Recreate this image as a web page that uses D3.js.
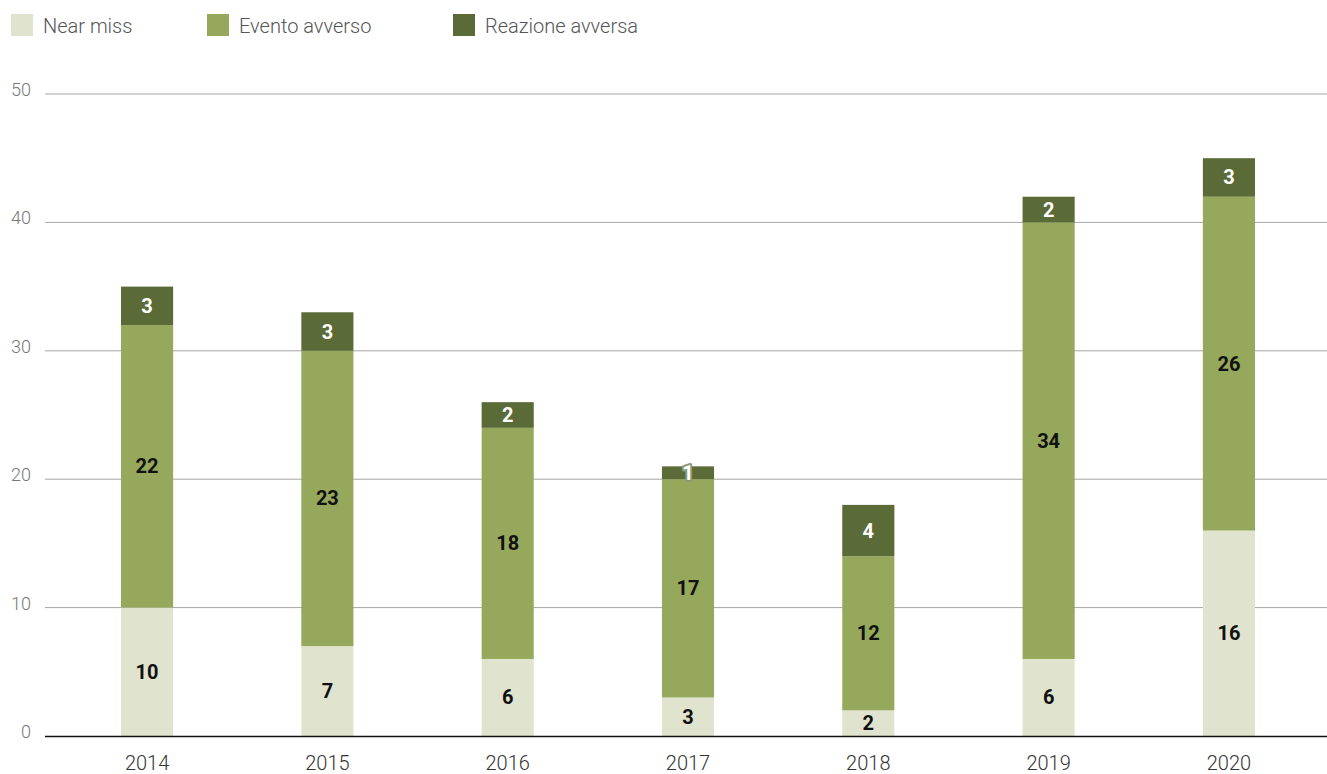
<!DOCTYPE html>
<html>
<head>
<meta charset="utf-8">
<script src="https://cdn.jsdelivr.net/npm/d3@7"></script>
<style>
  body { margin: 0; background: #fff; }
  svg text { font-family: Roboto, "Noto Sans", sans-serif; }
</style>
</head>
<body>
<script>
// Data
var years = ["2014", "2015", "2016", "2017", "2018", "2019", "2020"];
var nearMiss = [10, 7, 6, 3, 2, 6, 16];
var eventoAvverso = [22, 23, 18, 17, 12, 34, 26];
var reazioneAvversa = [3, 3, 2, 1, 4, 2, 3];
var yTicks = [0, 10, 20, 30, 40, 50];

var seriesNames = ["Near miss", "Evento avverso", "Reazione avversa"];
var seriesColors = ["#e0e3cd", "#96a85c", "#5b6b38"];
var labelColors = ["#111", "#111", "#fff"];

var svgWidth = 1327;
var svgHeight = 774;

var svg = d3.select("body")
  .append("svg")
  .attr("width", svgWidth)
  .attr("height", svgHeight);

// build rows for the stack
var rows = years.map(function (y, i) {
  return { year: y, near: nearMiss[i], evento: eventoAvverso[i], reazione: reazioneAvversa[i] };
});
var keys = ["near", "evento", "reazione"];
var stacked = d3.stack().keys(keys)(rows);

var x = d3.scaleBand()
  .domain(years)
  .range([57, 1319])
  .paddingInner(0.711)
  .paddingOuter(0.355);

var y = d3.scaleLinear()
  .domain([0, 50])
  .range([736, 94]);

// gridlines
svg.append("g")
  .selectAll("line")
  .data(yTicks.filter(d => d > 0))
  .enter().append("line")
  .attr("x1", 45)
  .attr("x2", svgWidth)
  .attr("y1", d => y(d))
  .attr("y2", d => y(d))
  .attr("stroke", "#a6a6a6")
  .attr("stroke-width", 1);

// y tick labels
svg.append("g")
  .selectAll("text")
  .data(yTicks)
  .enter().append("text")
  .attr("x", 31)
  .attr("y", d => y(d) + 2)
  .attr("text-anchor", "end")
  .attr("font-size", 18)
  .attr("font-weight", 300)
  .attr("fill", "#777")
  .text(d => d);

// bars
var layers = svg.append("g")
  .selectAll("g")
  .data(stacked)
  .enter().append("g")
  .attr("fill", (d, i) => seriesColors[i]);

layers.selectAll("rect")
  .data(d => d)
  .enter().append("rect")
  .attr("x", d => x(d.data.year))
  .attr("width", x.bandwidth())
  .attr("y", d => y(d[1]))
  .attr("height", d => y(d[0]) - y(d[1]));

// value labels
stacked.forEach(function (layer, li) {
  svg.append("g")
    .selectAll("text")
    .data(layer)
    .enter().append("text")
    .attr("x", d => x(d.data.year) + x.bandwidth() / 2)
    .attr("y", d => (y(d[0]) + y(d[1])) / 2 + 7)
    .attr("text-anchor", "middle")
    .attr("font-size", 20)
    .attr("font-weight", 700)
    .attr("fill", labelColors[li])
    .attr("stroke", d => (y(d[0]) - y(d[1]) < 16) ? "#8a9a74" : "none")
    .attr("stroke-width", 4)
    .attr("stroke-linejoin", "round")
    .attr("paint-order", "stroke")
    .text(d => d[1] - d[0]);
});

// x axis
var xAxis = svg.append("g")
  .attr("transform", "translate(0,736)")
  .call(d3.axisBottom(x).tickSize(0).tickPadding(20));
xAxis.select(".domain").remove();
xAxis.selectAll("text")
  .attr("font-size", 20)
  .attr("font-weight", 300)
  .attr("fill", "#333")
  .attr("font-family", "Roboto, sans-serif");
svg.append("line")
  .attr("x1", 45)
  .attr("x2", svgWidth)
  .attr("y1", 736.5)
  .attr("y2", 736.5)
  .attr("stroke", "#111")
  .attr("stroke-width", 1.5);

// legend
var legendX = [11, 207, 453];
var legend = svg.append("g")
  .selectAll("g")
  .data(seriesNames)
  .enter().append("g")
  .attr("transform", (d, i) => `translate(${legendX[i]}, 14)`);

legend.append("rect")
  .attr("width", 22)
  .attr("height", 22)
  .attr("fill", (d, i) => seriesColors[i]);

legend.append("text")
  .attr("x", 32)
  .attr("y", 19)
  .attr("font-size", 20)
  .attr("font-weight", 300)
  .attr("fill", "#555")
  .text(d => d);
</script>
</body>
</html>
